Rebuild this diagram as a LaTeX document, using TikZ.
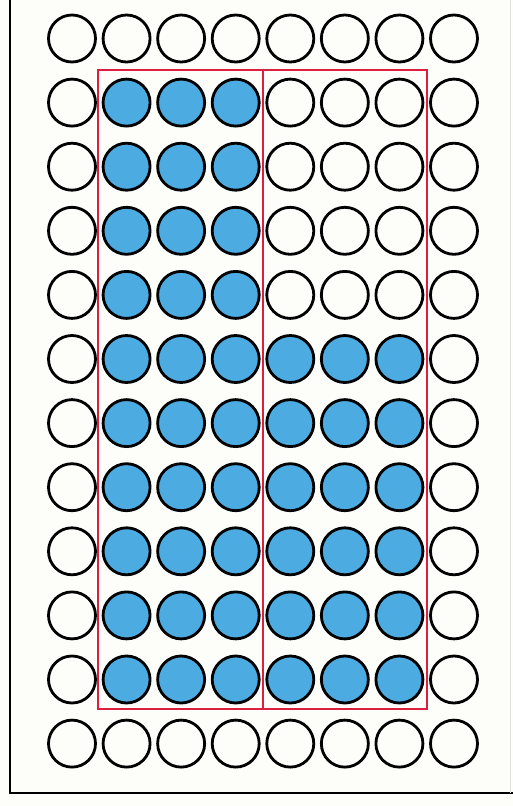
\documentclass[tikz,border=0pt]{standalone}
\usepackage{tikz}
\definecolor{dotblue}{RGB}{76,171,225}
\definecolor{framered}{RGB}{222,30,62}
\definecolor{paper}{RGB}{253,253,250}
\tikzset{
  dot/.style={circle,draw=black,line width=2.8pt,minimum size=47pt,inner sep=0pt,fill=paper},
  dotfull/.style={dot,fill=dotblue},
  redbox/.style={draw=framered,line width=2pt},
}
\begin{document}
\begin{tikzpicture}[x=1pt,y=-1pt]
\useasboundingbox (0,0) rectangle (513,806);
\fill[paper] (0,0) rectangle (513,806);
\draw[line width=2.5pt] (10,0) -- (10,793) -- (513,793);
\draw[black!12,line width=1pt] (510,0) -- (510,793);
\foreach \r in {1,...,12}{
  \foreach \c in {1,...,8}{
    \pgfmathsetmacro{\px}{72+54.57*(\c-1)}
    \pgfmathsetmacro{\py}{38.5+64.1*(\r-1)}
    \pgfmathtruncatemacro{\fa}{(\r>=2)&&(\r<=11)&&(\c>=2)&&(\c<=4)}
    \pgfmathtruncatemacro{\fb}{(\r>=6)&&(\r<=11)&&(\c>=5)&&(\c<=7)}
    \ifnum\numexpr\fa+\fb\relax>0
      \node[dotfull] (c-\r-\c) at (\px,\py) {};
    \else
      \node[dot] (c-\r-\c) at (\px,\py) {};
    \fi
  }
}
\draw[redbox] (97.7,70) rectangle (263.3,709);
\draw[redbox] (263.3,70) rectangle (426.7,709);
\end{tikzpicture}
\end{document}
